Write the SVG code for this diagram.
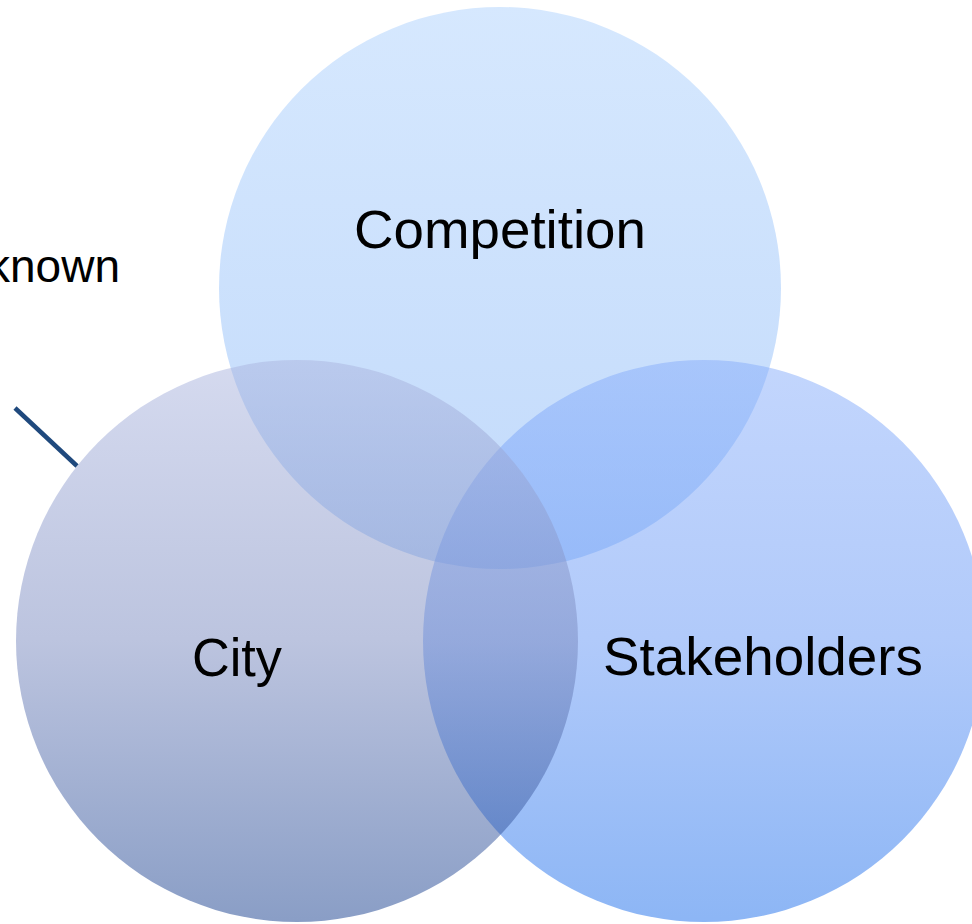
<svg xmlns="http://www.w3.org/2000/svg" width="972" height="924" viewBox="0 0 972 924">
  <style>
    .lbl { font-family: "Liberation Sans", Arial, sans-serif; font-size: 53px; fill: #000000; }
    .note { font-family: "Liberation Sans", Arial, sans-serif; font-size: 46px; fill: #000000; }
    .circ { fill-opacity: 0.5; }
    .leader { stroke: #1F497D; stroke-width: 4.5; fill: none; }
  </style>
  <defs>
    <linearGradient id="gComp" x1="0" y1="0" x2="0" y2="1">
      <stop offset="0" stop-color="#ADD1FD"/>
      <stop offset="1" stop-color="#85B5F7"/>
    </linearGradient>
    <linearGradient id="gStake" x1="0" y1="0" x2="0" y2="1">
      <stop offset="0" stop-color="#87ADFB"/>
      <stop offset="0.5" stop-color="#6395F5"/>
      <stop offset="1" stop-color="#1B6DEB"/>
    </linearGradient>
    <linearGradient id="gCity" x1="0" y1="0" x2="0" y2="1">
      <stop offset="0" stop-color="#ABB5DF"/>
      <stop offset="0.5" stop-color="#7989BF"/>
      <stop offset="1" stop-color="#153D8D"/>
    </linearGradient>
  </defs>
  <rect x="0" y="0" width="972" height="924" fill="#FFFFFF"/>
  <g id="competition">
    <circle class="circ" cx="500" cy="288" r="281" fill="url(#gComp)"/>
  </g>
  <g id="stakeholders">
    <circle class="circ" cx="704" cy="641" r="281" fill="url(#gStake)"/>
  </g>
  <g id="city">
    <circle class="circ" cx="297" cy="641" r="281" fill="url(#gCity)"/>
  </g>
  <g id="labels">
    <text class="lbl" x="354" y="248" textLength="292" lengthAdjust="spacingAndGlyphs">Competition</text>
    <text class="lbl" x="192" y="676" textLength="90" lengthAdjust="spacingAndGlyphs">City</text>
    <text class="lbl" x="603" y="675" textLength="320" lengthAdjust="spacingAndGlyphs">Stakeholders</text>
  </g>
  <g id="note">
    <text class="note" x="120" y="282" text-anchor="end">known</text>
  </g>
  <g id="connectors">
    <line class="leader" x1="15" y1="408" x2="77" y2="466"/>
  </g>
</svg>
